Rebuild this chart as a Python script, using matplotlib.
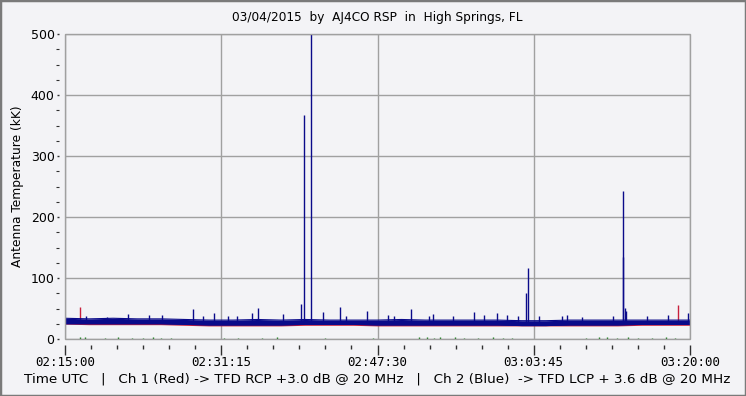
from matplotlib import pyplot as plt
from matplotlib.patches import Rectangle
import numpy as np

# minutes after 02:15:00 UTC
env_t = np.arange(0, 65.1, 2.5)
blue_hi = [34, 33, 34, 33, 33, 32, 31, 31, 32, 31, 32, 31, 31, 31,
           32, 31, 31, 31, 31, 30, 30, 31, 31, 31, 31, 31, 31]
blue_lo = [25, 25, 25, 25, 25, 24, 23, 23, 23, 23, 24, 24, 24, 23,
           23, 23, 23, 23, 23, 22, 22, 23, 23, 23, 24, 24, 24]
red_level = [25, 24, 24, 24, 24, 23, 22, 22, 22, 22, 23, 23, 23, 22,
             22, 22, 22, 22, 22, 22, 22, 22, 22, 22, 23, 23, 23]

blue_spike_t = [2.18, 4.37, 6.52, 8.74, 10.09, 13.28, 14.35, 15.50, 16.92, 17.86,
                19.45, 20.07, 22.67, 24.51, 24.86, 25.58, 26.83, 28.60, 29.19, 31.38,
                33.59, 34.22, 35.95, 37.86, 38.24, 40.35, 42.54, 43.58, 44.90, 45.94,
                47.11, 47.94, 48.12, 49.33, 51.66, 52.18, 53.77, 56.99, 58.00, 58.06,
                58.19, 58.34, 60.50, 62.71, 64.79]
blue_spike_v = [37, 36, 41, 39, 39, 49, 38, 43, 38, 38,
                43, 51, 41, 57, 368, 500, 44, 53, 38, 46,
                40, 38, 50, 38, 41, 38, 45, 39, 43, 39,
                38, 76, 117, 38, 38, 39, 36, 38, 135, 243,
                51, 46, 38, 40, 42]
red_spike_t = [1.51, 63.78]
red_spike_v = [53, 55]
green_t = [1.6, 2.1, 4.2, 5.5, 7.0, 8.1, 9.2, 10.0, 11.0, 16.5, 18.0, 20.5, 22.0,
           27.0, 32.0, 36.8, 37.6, 38.4, 39.0, 40.6, 41.5, 43.0, 44.5, 45.5, 46.5,
           54.2, 55.5, 56.4, 57.4, 58.6, 59.6, 61.0, 62.5, 63.4]
green_v = [3, 3, 2, 3, 2, 2, 3, 2, 2, 2, 2, 2, 3,
           2, 2, 3, 3, 2, 3, 3, 2, 2, 3, 2, 2,
           2, 3, 3, 2, 3, 2, 2, 3, 2]

tick_labels = ['02:15:00', '02:31:15', '02:47:30', '03:03:45', '03:20:00']

bg = '#f3f3f6'
grid_c = '#a0a0a0'
navy = '#0a0a8a'
red_c = '#c8203c'
txt = 'DejaVu Sans'

fig = plt.figure(figsize=(7.46, 3.96), dpi=100, facecolor=bg)
ax = fig.add_axes([65 / 746, 1 - 339 / 396, 625 / 746, 305 / 396])
ax.set_facecolor(bg)

ax.vlines(green_t, 0, green_v, color='#208020', lw=1)
ax.plot(env_t, red_level, color=red_c, lw=1.2, zorder=2)
ax.vlines(red_spike_t, 25, red_spike_v, color=red_c, lw=1, zorder=2)
ax.fill_between(env_t, blue_lo, blue_hi, color=navy, lw=0, zorder=3)
ax.plot(env_t, blue_hi, color=navy, lw=0.8, zorder=3)
ax.plot(env_t, blue_lo, color=navy, lw=0.8, zorder=3)
ax.vlines(blue_spike_t, 28, blue_spike_v, color=navy, lw=1, zorder=3)

ax.set_xlim(0, 65)
ax.set_ylim(0, 500)

for s in ax.spines.values():
    s.set_visible(False)
ax.spines['bottom'].set_position(('outward', 4))
ax.spines['left'].set_position(('outward', 4))
ax.add_patch(Rectangle((0, 0), 1, 1, transform=ax.transAxes, fill=False,
                       ec=grid_c, lw=1, clip_on=False, zorder=5))

major_x = np.arange(0, 65.1, 16.25)
ax.set_xticks(major_x)
ax.set_xticklabels(tick_labels, family='DejaVu Sans Mono', fontsize=9)
ax.set_xticks(np.arange(0, 65.1, 16.25 / 6), minor=True)
ax.set_yticks(np.arange(0, 501, 100))
ax.set_yticks(np.arange(0, 501, 25), minor=True)
ax.tick_params(axis='x', which='major', length=7, width=1, color='#303030', pad=1)
ax.tick_params(axis='x', which='minor', length=3, width=1, color='#303030')
ax.tick_params(axis='y', which='major', length=1.5, width=1, color='#303030', pad=2,
               labelsize=9)
ax.tick_params(axis='y', which='minor', length=2.5, width=0.8, color='#303030')
for lab in ax.get_yticklabels():
    lab.set_family(txt)

ax.grid(True, which='major', color=grid_c, lw=1)
ax.set_axisbelow(True)

ax.set_ylabel('Antenna Temperature (kK)', family=txt, fontsize=8.8, labelpad=5)

fig.text(377 / 746, 1 - 18 / 396, '03/04/2015  by  AJ4CO RSP  in  High Springs, FL',
         ha='center', va='center', family=txt, fontsize=8.75)
fig.text(377 / 746, 1 - 379 / 396,
         'Time UTC   |   Ch 1 (Red) -> TFD RCP +3.0 dB @ 20 MHz   |   '
         'Ch 2 (Blue)  -> TFD LCP + 3.6 dB @ 20 MHz',
         ha='center', va='center', family=txt, fontsize=9.7)

fig.patches.append(Rectangle((0, 0), 1, 1, transform=fig.transFigure, fill=False,
                             ec='#7a7a7a', lw=2.5))

fig.savefig('out.png', dpi=100, facecolor=bg)
